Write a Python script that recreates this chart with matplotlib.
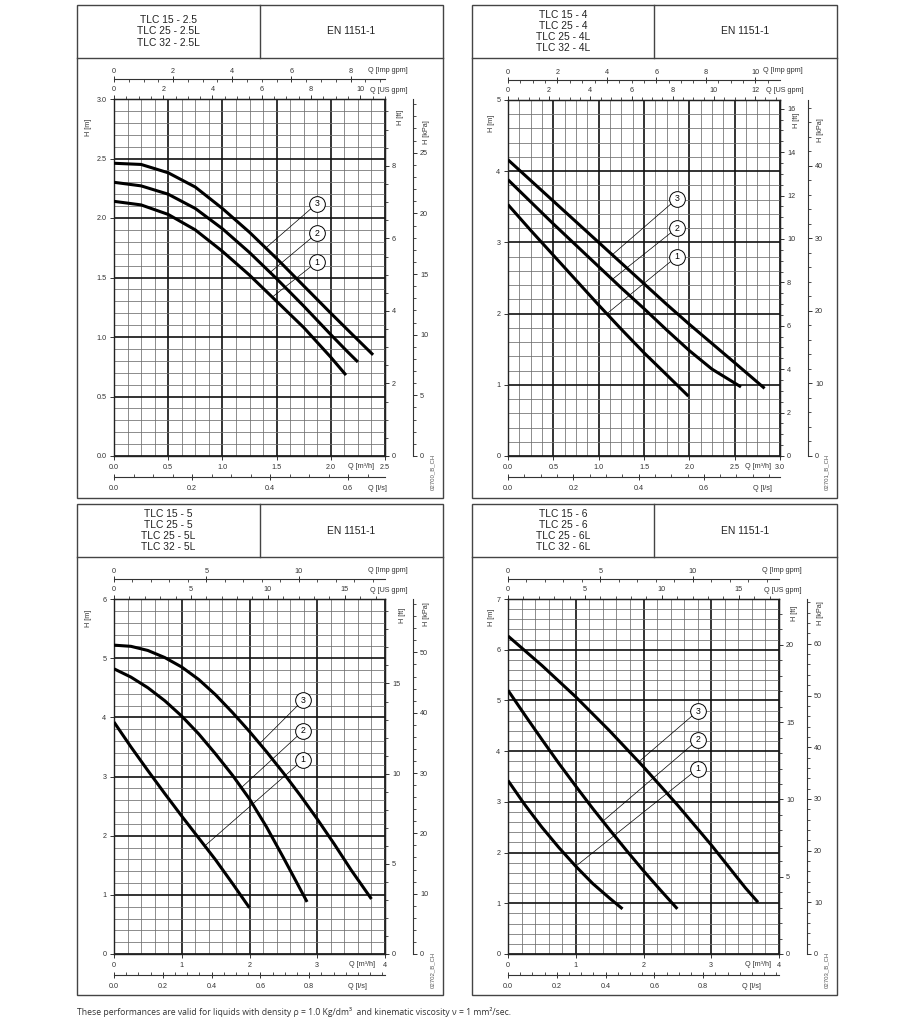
import numpy as np
import matplotlib
matplotlib.use("Agg")
import matplotlib.pyplot as plt
from matplotlib.patches import Rectangle
from matplotlib.ticker import MultipleLocator

plt.rcParams['font.family'] = ['Liberation Sans', 'DejaVu Sans']

W, H = 914, 1024
PT = 0.72          # points per pixel at 100 dpi

IMP = 3.6662       # Imp gpm per m3/h
USG = 4.4029       # US gpm per m3/h
LPS = 1 / 3.6      # l/s per m3/h
FT = 3.2808        # ft per m
KPA = 9.81         # kPa per m

# ---------------- data ----------------
p1_models = ["TLC 15 - 2.5", "TLC 25 - 2.5L", "TLC 32 - 2.5L"]
p2_models = ["TLC 15 - 4", "TLC 25 - 4", "TLC 25 - 4L", "TLC 32 - 4L"]
p3_models = ["TLC 15 - 5", "TLC 25 - 5", "TLC 25 - 5L", "TLC 32 - 5L"]
p4_models = ["TLC 15 - 6", "TLC 25 - 6", "TLC 25 - 6L", "TLC 32 - 6L"]
codes = ["02700_B_CH", "02701_B_CH", "02702_B_CH", "02703_B_CH"]

# panel 1 curves (Q m3/h, H m)
p1_q1 = [0, 0.25, 0.5, 0.75, 1.0, 1.25, 1.5, 1.75, 2.0, 2.14]
p1_h1 = [2.14, 2.11, 2.03, 1.90, 1.72, 1.52, 1.30, 1.08, 0.83, 0.68]
p1_q2 = [0, 0.25, 0.5, 0.75, 1.0, 1.25, 1.5, 1.75, 2.0, 2.15, 2.25]
p1_h2 = [2.30, 2.27, 2.20, 2.08, 1.91, 1.71, 1.49, 1.26, 1.02, 0.88, 0.79]
p1_q3 = [0, 0.25, 0.5, 0.75, 1.0, 1.25, 1.5, 1.75, 2.0, 2.2, 2.39]
p1_h3 = [2.46, 2.45, 2.38, 2.26, 2.08, 1.88, 1.66, 1.43, 1.20, 1.02, 0.85]

# panel 2
p2_q1 = [0, 0.25, 0.5, 0.75, 1.0, 1.25, 1.5, 1.75, 1.99]
p2_h1 = [3.53, 3.17, 2.82, 2.47, 2.12, 1.78, 1.45, 1.14, 0.84]
p2_q2 = [0, 0.25, 0.5, 0.75, 1.0, 1.25, 1.5, 1.75, 2.0, 2.25, 2.57]
p2_h2 = [3.88, 3.57, 3.26, 2.96, 2.66, 2.36, 2.07, 1.77, 1.48, 1.22, 0.97]
p2_q3 = [0, 0.25, 0.5, 0.75, 1.0, 1.25, 1.5, 1.75, 2.0, 2.25, 2.5, 2.83]
p2_h3 = [4.16, 3.87, 3.58, 3.29, 3.00, 2.71, 2.42, 2.13, 1.85, 1.58, 1.31, 0.95]

# panel 3
p3_q1 = [0, 0.25, 0.5, 0.75, 1.0, 1.25, 1.5, 1.75, 2.0]
p3_h1 = [3.92, 3.50, 3.10, 2.71, 2.33, 1.96, 1.59, 1.19, 0.78]
p3_q2 = [0, 0.25, 0.5, 0.75, 1.0, 1.25, 1.5, 1.75, 2.0, 2.25, 2.5, 2.85]
p3_h2 = [4.82, 4.68, 4.50, 4.28, 4.02, 3.72, 3.38, 3.02, 2.62, 2.15, 1.63, 0.88]
p3_q3 = [0, 0.25, 0.5, 0.75, 1.0, 1.25, 1.5, 1.75, 2.0, 2.25, 2.5, 2.75, 3.0, 3.25, 3.5, 3.8]
p3_h3 = [5.22, 5.20, 5.13, 5.01, 4.85, 4.64, 4.38, 4.08, 3.76, 3.42, 3.06, 2.68, 2.28, 1.86, 1.42, 0.93]

# panel 4
p4_q1 = [0, 0.25, 0.5, 0.75, 1.0, 1.25, 1.5, 1.69]
p4_h1 = [3.42, 2.94, 2.50, 2.10, 1.73, 1.39, 1.10, 0.89]
p4_q2 = [0, 0.25, 0.5, 0.75, 1.0, 1.25, 1.5, 1.75, 2.0, 2.25, 2.5]
p4_h2 = [5.20, 4.71, 4.23, 3.76, 3.31, 2.87, 2.45, 2.04, 1.64, 1.26, 0.89]
p4_q3 = [0, 0.5, 1.0, 1.5, 2.0, 2.5, 3.0, 3.25, 3.5, 3.69]
p4_h3 = [6.27, 5.69, 5.07, 4.40, 3.69, 2.94, 2.15, 1.73, 1.31, 1.02]

# callouts: circle Q, circle H for curves 1..3, and Q where the leader meets the curve
p1_tag_q, p1_tag_h, p1_lead_q = 1.87, [1.63, 1.87, 2.12], [1.46, 1.44, 1.40]
p2_tag_q, p2_tag_h, p2_lead_q = 1.86, [2.80, 3.20, 3.61], [1.09, 1.15, 1.15]
p3_tag_q, p3_tag_h, p3_lead_q = 2.79, [3.28, 3.77, 4.29], [1.34, 1.88, 2.15]
p4_tag_q, p4_tag_h, p4_lead_q = 2.80, [3.65, 4.22, 4.79], [1.00, 1.40, 1.93]

# axis scales
p1_q_labels = ["0.0", "0.5", "1.0", "1.5", "2.0", "2.5"]
p1_h_labels = ["0.0", "0.5", "1.0", "1.5", "2.0", "2.5", "3.0"]
p2_q_labels = ["0.0", "0.5", "1.0", "1.5", "2.0", "2.5", "3.0"]
p2_h_labels = ["0", "1", "2", "3", "4", "5"]
p3_q_labels = ["0", "1", "2", "3", "4"]
p3_h_labels = ["0", "1", "2", "3", "4", "5", "6"]
p4_q_labels = ["0", "1", "2", "3", "4"]
p4_h_labels = ["0", "1", "2", "3", "4", "5", "6", "7"]

p1_us, p1_imp, p1_lps = [0, 2, 4, 6, 8, 10], [0, 2, 4, 6, 8], [0.0, 0.2, 0.4, 0.6]
p2_us, p2_imp, p2_lps = [0, 2, 4, 6, 8, 10, 12], [0, 2, 4, 6, 8, 10], [0.0, 0.2, 0.4, 0.6]
p3_us, p3_imp, p3_lps = [0, 5, 10, 15], [0, 5, 10], [0.0, 0.2, 0.4, 0.6, 0.8]
p4_us, p4_imp, p4_lps = [0, 5, 10, 15], [0, 5, 10], [0.0, 0.2, 0.4, 0.6, 0.8]
p1_ft, p1_kpa = [0, 2, 4, 6, 8], [0, 5, 10, 15, 20, 25]
p2_ft, p2_kpa = [0, 2, 4, 6, 8, 10, 12, 14, 16], [0, 10, 20, 30, 40]
p3_ft, p3_kpa = [0, 5, 10, 15], [0, 10, 20, 30, 40, 50]
p4_ft, p4_kpa = [0, 5, 10, 15, 20], [0, 10, 20, 30, 40, 50, 60]

footnote = ("These performances are valid for liquids with density \u03c1 = 1.0 Kg/dm\u00b3  "
            "and kinematic viscosity \u03bd = 1 mm\u00b2/sec.")

# ---------------- layout (pixels) ----------------
panels = [
    dict(box=(77, 5, 443, 498), head=58, div=260, plot=(114, 99, 385, 456),
         models=p1_models, code=codes[0],
         curves=[(p1_q1, p1_h1), (p1_q2, p1_h2), (p1_q3, p1_h3)],
         tag_q=p1_tag_q, tag_h=p1_tag_h, lead_q=p1_lead_q,
         qmax=2.5, hmax=3.0, qmaj=0.5, qmin=0.125, hmaj=0.5, hmin=0.1,
         qlab=p1_q_labels, hlab=p1_h_labels,
         us=p1_us, usmin=0.5, imp=p1_imp, impmin=0.5, lps=p1_lps,
         ft=p1_ft, ftmin=0.5, kpa=p1_kpa, kpamin=1,
         mlab=2.28, llab=0.675, hm=(-26, 28), hft=(15, 18), hkpa=(42, 33)),
    dict(box=(472, 5, 837, 498), head=58, div=654, plot=(508, 100, 780, 456),
         models=p2_models, code=codes[1],
         curves=[(p2_q1, p2_h1), (p2_q2, p2_h2), (p2_q3, p2_h3)],
         tag_q=p2_tag_q, tag_h=p2_tag_h, lead_q=p2_lead_q,
         qmax=3.0, hmax=5.0, qmaj=0.5, qmin=0.125, hmaj=1, hmin=0.2,
         qlab=p2_q_labels, hlab=p2_h_labels,
         us=p2_us, usmin=0.5, imp=p2_imp, impmin=0.5, lps=p2_lps,
         ft=p2_ft, ftmin=0.5, kpa=p2_kpa, kpamin=2,
         mlab=2.76, llab=0.78, hm=(-17, 23), hft=(17, 20), hkpa=(40, 30)),
    dict(box=(77, 504, 443, 995), head=557, div=260, plot=(114, 599, 385, 954),
         models=p3_models, code=codes[2],
         curves=[(p3_q1, p3_h1), (p3_q2, p3_h2), (p3_q3, p3_h3)],
         tag_q=p3_tag_q, tag_h=p3_tag_h, lead_q=p3_lead_q,
         qmax=4.0, hmax=6.0, qmaj=1, qmin=0.2, hmaj=1, hmin=0.2,
         qlab=p3_q_labels, hlab=p3_h_labels,
         us=p3_us, usmin=1, imp=p3_imp, impmin=1, lps=p3_lps,
         ft=p3_ft, ftmin=1, kpa=p3_kpa, kpamin=2,
         mlab=3.66, llab=1.0, hm=(-26, 19), hft=(18, 16), hkpa=(41, 15)),
    dict(box=(472, 504, 837, 995), head=557, div=654, plot=(508, 599, 779, 954),
         models=p4_models, code=codes[3],
         curves=[(p4_q1, p4_h1), (p4_q2, p4_h2), (p4_q3, p4_h3)],
         tag_q=p4_tag_q, tag_h=p4_tag_h, lead_q=p4_lead_q,
         qmax=4.0, hmax=7.0, qmaj=1, qmin=0.2, hmaj=1, hmin=0.2,
         qlab=p4_q_labels, hlab=p4_h_labels,
         us=p4_us, usmin=1, imp=p4_imp, impmin=1, lps=p4_lps,
         ft=p4_ft, ftmin=1, kpa=p4_kpa, kpamin=2,
         mlab=3.69, llab=1.0, hm=(-17, 18), hft=(16, 14), hkpa=(41, 14)),
]

FS = 5.2
LINE = '#444444'


def frac(x0, y0, x1, y1):
    return [x0 / W, 1 - y1 / H, (x1 - x0) / W, (y1 - y0) / H]


def fmt(v):
    return f"{v:.1f}" if isinstance(v, float) else str(v)


fig = plt.figure(figsize=(W / 100, H / 100), dpi=100)
bg = fig.add_axes([0, 0, 1, 1])
bg.set_xlim(0, W)
bg.set_ylim(H, 0)
bg.axis('off')

for pn in panels:
    bx0, by0, bx1, by1 = pn['box']
    bg.add_patch(Rectangle((bx0, by0), bx1 - bx0, by1 - by0, fill=False, ec=LINE, lw=1.0))
    bg.plot([bx0, bx1], [pn['head']] * 2, color=LINE, lw=1.0)
    bg.plot([pn['div']] * 2, [by0, pn['head']], color=LINE, lw=1.0)

    # header
    cy = (by0 + pn['head']) / 2
    n = len(pn['models'])
    for i, m in enumerate(pn['models']):
        bg.text((bx0 + pn['div']) / 2, cy + (i - (n - 1) / 2) * 11.3, m,
                ha='center', va='center', fontsize=7.4, color='#222')
    bg.text((pn['div'] + bx1) / 2, cy, "EN 1151-1", ha='center', va='center',
            fontsize=7.4, color='#222')
    bg.text(bx1 - 10, (pn['plot'][3] + by1) / 2 - 5, pn['code'], rotation=90,
            ha='center', va='center', fontsize=4.3, color='#555')

    # main chart
    px0, py0, px1, py1 = pn['plot']
    pw, ph = px1 - px0, py1 - py0
    ax = fig.add_axes(frac(px0, py0, px1, py1))
    ax.set_xlim(0, pn['qmax'])
    ax.set_ylim(0, pn['hmax'])
    ax.set_xticks(np.arange(len(pn['qlab'])) * pn['qmaj'])
    ax.set_xticklabels(pn['qlab'])
    ax.set_yticks(np.arange(len(pn['hlab'])) * pn['hmaj'])
    ax.set_yticklabels(pn['hlab'])
    ax.xaxis.set_minor_locator(MultipleLocator(pn['qmin']))
    ax.yaxis.set_minor_locator(MultipleLocator(pn['hmin']))
    ax.grid(which='minor', color='#6e6e6e', lw=0.55)
    ax.grid(which='major', color='#111111', lw=1.2)
    ax.set_axisbelow(True)
    ax.tick_params(which='minor', length=0)
    ax.tick_params(which='major', length=3, width=0.7, labelsize=FS, pad=2.5, colors='#333')
    for s in ax.spines.values():
        s.set_linewidth(1.0)
        s.set_color('#222')

    # curves
    for q, h in pn['curves']:
        ax.plot(q, h, color='black', lw=2.2, solid_capstyle='butt', zorder=3)

    # numbered callouts
    for k, ((q, h), th, lq) in enumerate(zip(pn['curves'], pn['tag_h'], pn['lead_q'])):
        lh = np.interp(lq, q, h)
        ax.plot([lq, pn['tag_q']], [lh, th], color='black', lw=0.5, zorder=4)
        ax.plot(pn['tag_q'], th, 'o', ms=11.3, mfc='white', mec='black', mew=0.7, zorder=5)
        ax.text(pn['tag_q'], th, str(k + 1), ha='center', va='center', fontsize=6.3, zorder=6)

    # secondary scales
    us = ax.secondary_xaxis('top', functions=(lambda v: v * USG, lambda v: v / USG))
    us.set_xticks(pn['us'])
    us.set_xticklabels([fmt(v) for v in pn['us']])
    us.xaxis.set_minor_locator(MultipleLocator(pn['usmin']))
    us.tick_params(which='major', length=3, width=0.7, labelsize=FS, pad=1.5, colors='#333')
    us.tick_params(which='minor', length=2, width=0.6, colors='#333')

    imp = ax.secondary_xaxis(1 + 20 / ph, functions=(lambda v: v * IMP, lambda v: v / IMP))
    imp.set_xticks(pn['imp'])
    imp.set_xticklabels([fmt(v) for v in pn['imp']])
    imp.xaxis.set_minor_locator(MultipleLocator(pn['impmin']))
    imp.tick_params(which='major', direction='inout', length=4, width=0.7, labelsize=FS,
                    pad=1.0, colors='#333')
    imp.tick_params(which='minor', direction='in', length=2, width=0.6, colors='#333')

    lps = ax.secondary_xaxis(-21 / ph, functions=(lambda v: v * LPS, lambda v: v / LPS))
    lps.set_xticks(pn['lps'])
    lps.set_xticklabels([f"{v:.1f}" for v in pn['lps']])
    lps.xaxis.set_minor_locator(MultipleLocator(0.05))
    lps.tick_params(which='major', direction='inout', length=4, width=0.7, labelsize=FS,
                    pad=3.5, colors='#333')
    lps.tick_params(which='minor', direction='in', length=2, width=0.6, colors='#333')

    ft = ax.secondary_yaxis('right', functions=(lambda v: v * FT, lambda v: v / FT))
    ft.set_yticks(pn['ft'])
    ft.set_yticklabels([fmt(v) for v in pn['ft']])
    ft.yaxis.set_minor_locator(MultipleLocator(pn['ftmin']))
    ft.tick_params(which='major', length=3, width=0.7, labelsize=FS, pad=2, colors='#333')
    ft.tick_params(which='minor', length=2, width=0.6, colors='#333')

    kpa = ax.secondary_yaxis(1 + 28 / pw, functions=(lambda v: v * KPA, lambda v: v / KPA))
    kpa.set_yticks(pn['kpa'])
    kpa.set_yticklabels([fmt(v) for v in pn['kpa']])
    kpa.yaxis.set_minor_locator(MultipleLocator(pn['kpamin']))
    kpa.tick_params(which='major', length=3, width=0.7, labelsize=FS, pad=2, colors='#333')
    kpa.tick_params(which='minor', length=2, width=0.6, colors='#333')
    for a in (us, imp, lps, ft, kpa):
        for s in a.spines.values():
            s.set_linewidth(0.8)
            s.set_color('#333')

    # axis titles
    kw = dict(fontsize=FS, color='#333', textcoords='offset points')
    ax.annotate("Q [m\u00b3/h]", xy=(pn['mlab'], 0), xycoords=('data', 'axes fraction'),
                xytext=(0, -10 * PT), ha='center', va='center', **kw)
    ax.annotate("Q [l/s]", xy=(pn['llab'] / LPS, 0), xycoords=('data', 'axes fraction'),
                xytext=(0, -32 * PT), ha='center', va='center', **kw)
    ax.annotate("Q [US gpm]", xy=(1, 1), xycoords='axes fraction',
                xytext=(23 * PT, 9 * PT), ha='right', va='center', **kw)
    ax.annotate("Q [Imp gpm]", xy=(1, 1), xycoords='axes fraction',
                xytext=(23 * PT, 29 * PT), ha='right', va='center', **kw)
    ax.annotate("H [m]", xy=(0, 1), xycoords='axes fraction', rotation=90,
                xytext=(pn['hm'][0] * PT, -pn['hm'][1] * PT), ha='center', va='center', **kw)
    ax.annotate("H [ft]", xy=(1, 1), xycoords='axes fraction', rotation=90,
                xytext=(pn['hft'][0] * PT, -pn['hft'][1] * PT), ha='center', va='center', **kw)
    ax.annotate("H [kPa]", xy=(1, 1), xycoords='axes fraction', rotation=90,
                xytext=(pn['hkpa'][0] * PT, -pn['hkpa'][1] * PT), ha='center', va='center', **kw)

bg.text(77, 1012, footnote, ha='left', va='center', fontsize=6.2,
        family=['Open Sans', 'DejaVu Sans'], color='#333')

fig.savefig("out.png", dpi=100)
